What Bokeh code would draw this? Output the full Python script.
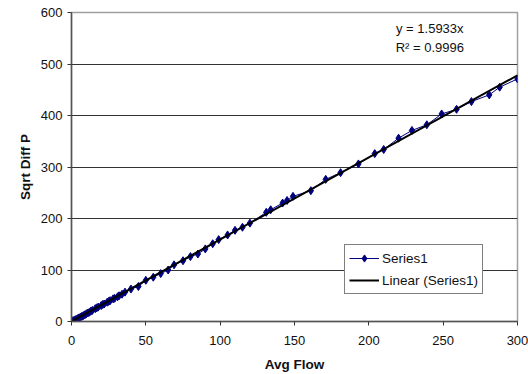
from bokeh.plotting import figure
from bokeh.models import Range1d, Label, Legend, LegendItem, FixedTicker
from bokeh.embed import file_html
from bokeh.resources import INLINE

# Data
avg_flow = [1, 2, 3, 4, 5, 6, 7, 8, 9, 10, 11, 12, 13, 14,
            16, 17, 18, 20, 21, 22, 24, 25, 26, 28, 29, 31, 32, 34, 36,
            40, 45, 50, 55, 60, 65, 69, 75, 80, 85, 90, 95, 99,
            105, 110, 115, 120, 131, 134, 142, 145, 149,
            161, 171, 181, 193, 204, 210, 220, 229, 239, 249, 259, 269, 281, 288, 300]
sqrt_diff_p = [1.5, 3, 4, 5.5, 7, 8.5, 10, 11.5, 13, 15, 16.5, 18, 20, 21.5,
               25, 26.5, 28, 31, 33, 34, 37.5, 39, 40.5, 44, 45, 48, 50, 53, 57,
               63, 68, 80, 86, 93, 100, 110, 118, 126, 131, 141, 151, 159,
               168, 177, 183, 191, 212, 217, 230, 235, 243,
               254, 276, 289, 306, 326, 334, 356, 371, 382, 403, 412, 427, 440, 455, 471]
slope = 1.5933
r_squared = 0.9996
x_ticks = [0, 50, 100, 150, 200, 250, 300]
y_ticks = [0, 100, 200, 300, 400, 500, 600]

FONT = "Liberation Sans"

p = figure(frame_width=446, frame_height=309, output_backend="svg", toolbar_location=None,
           x_range=Range1d(0, 300), y_range=Range1d(0, 600),
           min_border_left=71, min_border_right=11, min_border_top=12, min_border_bottom=52,
           background_fill_color="white", border_fill_color="white")

p.outline_line_color = "#a0a0a0"
p.outline_line_width = 1.5
p.xgrid.grid_line_color = None
p.ygrid.grid_line_color = "#333333"
p.ygrid.grid_line_width = 1

p.xaxis.ticker = FixedTicker(ticks=x_ticks)
p.yaxis.ticker = FixedTicker(ticks=y_ticks)
for ax in (p.xaxis[0], p.yaxis[0]):
    ax.axis_line_color = "#555555"
    ax.axis_line_width = 1.5
    ax.major_tick_line_color = "#333333"
    ax.major_tick_in = 0
    ax.major_tick_out = 4
    ax.minor_tick_line_color = None
    ax.major_label_text_font = FONT
    ax.major_label_text_font_size = "13px"
    ax.major_label_text_color = "#111111"
    ax.axis_label_text_font = FONT
    ax.axis_label_text_font_size = "13.5px"
    ax.axis_label_text_font_style = "bold"
    ax.axis_label_text_color = "#111111"
p.xaxis.axis_label = "Avg Flow"
p.yaxis.axis_label = "Sqrt Diff P"
p.xaxis.major_label_standoff = 10
p.xaxis.axis_label_standoff = 9
p.yaxis.major_label_standoff = 5
p.yaxis.axis_label_standoff = 5

# Trend line
x_fit = [x_ticks[0], x_ticks[-1]]
y_fit = [slope * x for x in x_fit]

series_line = p.line(avg_flow, sqrt_diff_p, line_color="#000080", line_width=1)
series_marker = p.scatter(avg_flow, sqrt_diff_p, marker="diamond", size=8,
                          fill_color="#000080", line_color="#000080")
trend = p.line(x_fit, y_fit, line_color="black", line_width=2)

legend = Legend(items=[
    LegendItem(label="Series1", renderers=[series_line, series_marker]),
    LegendItem(label="Linear (Series1)", renderers=[trend]),
], location=(273, 27))
legend.label_text_font = FONT
legend.label_text_font_size = "13.5px"
legend.label_text_color = "#111111"
legend.border_line_color = "black"
legend.border_line_width = 1
legend.background_fill_color = "white"
legend.background_fill_alpha = 1
legend.glyph_width = 30
legend.glyph_height = 18
legend.label_standoff = 3
legend.padding = 4
legend.spacing = 4
legend.margin = 0
legend.label_height = 18
p.add_layout(legend, "center")

p.add_layout(Label(x=241, y=569, text=f"y = {slope}x", text_align="center", text_baseline="middle",
                   text_font=FONT, text_font_size="13px", text_color="#111111"))
p.add_layout(Label(x=241, y=532, text=f"R\u00b2 = {r_squared}", text_align="center", text_baseline="middle",
                   text_font=FONT, text_font_size="13px", text_color="#111111"))

open("out.html", "w").write(file_html(p, INLINE))
